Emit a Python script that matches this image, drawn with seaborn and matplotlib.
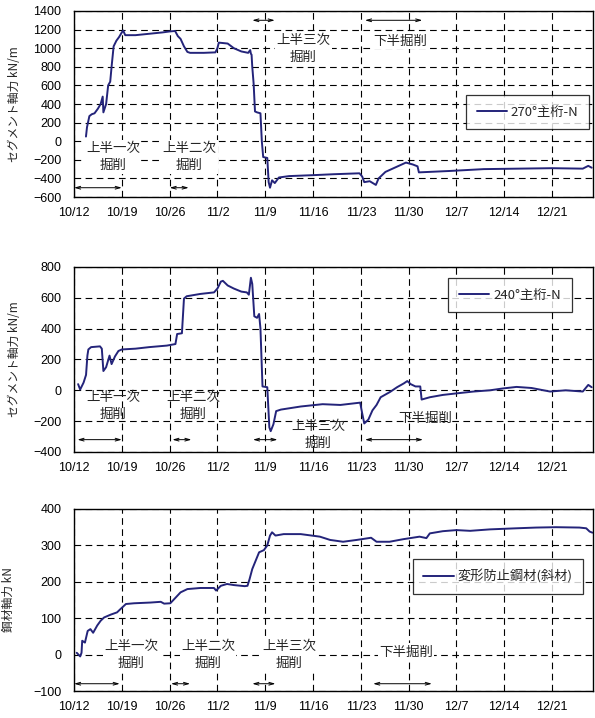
import numpy as np
import pandas as pd
import seaborn as sns
import matplotlib
matplotlib.use('Agg')
import matplotlib.pyplot as plt

sns.set_style('white')
plt.rcParams['font.family'] = ['Noto Sans CJK JP', 'DejaVu Sans']

# 10/12 からの経過日数
tick_days = [0, 7, 14, 21, 28, 35, 42, 49, 56, 63, 70]
tick_labels = ['10/12', '10/19', '10/26', '11/2', '11/9', '11/16',
               '11/23', '11/30', '12/7', '12/14', '12/21']

# 270°主桁-N
top_day = [1.75, 1.9, 2.25, 2.6, 3.0, 3.5, 3.9, 4.2, 4.3, 4.7, 5.0, 5.3, 5.5, 5.8,
           6.2, 6.6, 7.0, 7.2, 7.5, 9, 11, 13, 14.0, 14.8, 15.2, 15.6, 16.1, 16.6,
           17, 19, 20.7, 21.0, 21.2, 22.5, 23.4, 24.5, 25.5, 25.8, 25.9, 26.0, 26.1,
           26.3, 26.5, 26.8, 27.3, 27.5, 27.7, 28.3, 28.5, 28.7, 29.0, 29.4, 30.0,
           31.5, 35, 38, 41.8, 42.2, 42.5, 43.3, 44.2, 44.6, 45.6, 47.1, 48.6, 49.6,
           50.3, 50.5, 52, 55, 60, 65, 70, 74.5, 75.3, 75.8]
top_val = [50, 150, 270, 290, 300, 350, 400, 480, 310, 400, 600, 640, 800, 1020,
           1080, 1120, 1170, 1190, 1140, 1140, 1155, 1170, 1180, 1185, 1130, 1100, 1020, 960,
           950, 950, 955, 1000, 1060, 1050, 1000, 965, 950, 980, 940, 930, 800,
           620, 320, 310, 300, 0, -170, -180, -440, -500, -420, -450, -390,
           -375, -365, -355, -345, -380, -440, -430, -470, -400, -330, -280, -230, -250,
           -270, -335, -330, -320, -300, -295, -290, -295, -265, -285]

# 240°主桁-N
mid_day = [0.6, 0.9, 1.4, 1.76, 1.96, 2.1, 2.5, 3.8, 4.07, 4.3, 4.7, 5.2, 5.5, 6.0,
           6.5, 7.0, 9, 11, 13.6, 14.85, 15.1, 15.8, 16.1, 16.5, 18.5, 20.5, 21.0,
           21.5, 21.8, 22.5, 23.4, 24.5, 25.3, 25.6, 25.9, 26.1, 26.4, 26.8, 27.1,
           27.3, 27.6, 28.3, 28.6, 28.8, 29.2, 29.6, 30.3, 33.2, 36.4, 39, 41.9, 42.2,
           42.5, 43.1, 43.7, 44.3, 44.9, 46.3, 47.3, 48.3, 48.8, 49.3, 50.0, 50.7,
           50.9, 52.1, 54, 56, 58.5, 60.9, 62.8, 64.8, 67, 69.7, 72, 74.5, 75.3, 75.8]
mid_val = [40, 5, 50, 100, 225, 265, 280, 285, 270, 125, 150, 225, 170, 220,
           255, 265, 270, 280, 290, 300, 365, 370, 595, 610, 625, 635, 660,
           705, 710, 680, 660, 640, 635, 620, 730, 690, 480, 470, 495,
           400, 25, 20, -240, -265, -220, -135, -125, -105, -90, -95, -80, -150,
           -215, -190, -130, -95, -45, -10, 20, 45, 60, 40, 25, 25,
           -60, -45, -30, -20, -8, 0, 12, 22, 15, -8, 0, -8, 35, 20]

# 変形防止鋼材(斜材)
bot_day = [0.4, 0.9, 1.1, 1.2, 1.6, 2.0, 2.4, 2.8, 3.4, 3.9, 4.4, 5.4, 6.3, 6.8,
           7.6, 8.8, 11.2, 12.7, 13.2, 14.1, 14.9, 15.6, 16.6, 18.5, 20.5, 20.8,
           21.5, 22.4, 23.4, 25.0, 25.4, 25.7, 26.1, 26.6, 27.1, 27.8, 28.3, 28.7,
           29.0, 29.5, 30.7, 33.2, 36, 37.5, 39.4, 41.4, 43.5, 44.3, 46.2, 48.2,
           50.6, 51.6, 52.1, 54, 56, 58, 60.9, 64.8, 67.7, 70.6, 74, 75.0, 75.5, 75.9]
bot_val = [5, -5, 5, 38, 33, 65, 70, 60, 80, 93, 102, 110, 116, 125,
           139, 141, 143, 145, 140, 141, 157, 171, 180, 183, 183, 176,
           189, 194, 191, 188, 189, 207, 235, 258, 281, 287, 300, 327,
           336, 327, 331, 331, 324, 315, 310, 315, 321, 310, 310, 317,
           324, 320, 333, 339, 342, 340, 344, 347, 349, 350, 349, 347, 338, 335]

color = '#24247a'
tick_font = ['Liberation Sans', 'Noto Sans CJK JP']
fig = plt.figure(figsize=(5.95, 7.18), dpi=100)
ax1 = fig.add_axes([0.1244, 0.7256, 0.8723, 0.2591])
ax2 = fig.add_axes([0.1244, 0.3705, 0.8723, 0.2577])
ax3 = fig.add_axes([0.1244, 0.0376, 0.8723, 0.2535])

panels = [
    (ax1, top_day, top_val, '270°主桁-N', (-600, 1400), 200, 'セグメント軸力 kN/m', (0.874, 0.457)),
    (ax2, mid_day, mid_val, '240°主桁-N', (-400, 800), 200, 'セグメント軸力 kN/m', (0.840, 0.847)),
    (ax3, bot_day, bot_val, '変形防止鋼材(斜材)', (-100, 400), 100, '鋼材軸力 kN', (0.817, 0.630)),
]

for ax, d, v, name, ylim, step, ylab, legpos in panels:
    df = pd.DataFrame({'day': d, 'val': v})
    sns.lineplot(data=df, x='day', y='val', ax=ax, color=color, lw=1.4, label=name)
    ax.set_xlim(0, 76)
    ax.set_ylim(*ylim)
    ax.set_xticks(tick_days)
    ax.set_xticklabels(tick_labels)
    ax.set_yticks(np.arange(ylim[0], ylim[1] + 1, step))
    ax.tick_params(length=0, labelsize=9, colors='black')
    ax.tick_params(axis='y', pad=9)
    ax.tick_params(axis='x', pad=7)
    for lab in ax.get_xticklabels() + ax.get_yticklabels():
        lab.set_family(tick_font)
    ax.set_xlabel('')
    ax.set_ylabel(ylab, fontsize=8.5)
    ax.grid(True, color='black', lw=0.8, linestyle=(0, (6, 4)))
    ax.set_axisbelow(True)
    for s in ax.spines.values():
        s.set_color('black')
        s.set_linewidth(1.0)
    leg = ax.legend(loc='center', bbox_to_anchor=legpos, fontsize=9.5, frameon=True,
                    fancybox=False, edgecolor='black', handlelength=2.3,
                    handletextpad=0.3, borderpad=0.8)
    leg.get_frame().set_linewidth(0.9)

ax1.yaxis.set_label_coords(-0.102, 0.5)
ax2.yaxis.set_label_coords(-0.102, 0.5)
ax3.yaxis.set_label_coords(-0.114, 0.5)

arr = dict(arrowstyle='<->,head_length=0.35,head_width=0.1', lw=0.7, color='black',
           shrinkA=0, shrinkB=0)
box = dict(facecolor='white', edgecolor='none', pad=1)
fs = 9.7
ls = 1.3

# 上段
for x0, x1, y in [(0, 7, -500), (14, 16.8, -500), (26.1, 29.4, 1300), (42.6, 51, 1300)]:
    ax1.annotate('', xy=(x1, y), xytext=(x0, y), arrowprops=arr)
ax1.text(5.7, -165, '上半一次\n掘削', ha='center', va='center', fontsize=fs, linespacing=ls, bbox=box)
ax1.text(16.9, -165, '上半二次\n掘削', ha='center', va='center', fontsize=fs, linespacing=ls, bbox=box)
ax1.text(33.6, 995, '上半三次\n掘削', ha='center', va='center', fontsize=fs, linespacing=ls, bbox=box)
ax1.text(47.8, 1080, '下半掘削', ha='center', va='center', fontsize=fs, bbox=box)

# 中段
for x0, x1, y in [(0.5, 7, -320), (14.4, 17.2, -320), (26.2, 29.8, -320), (42.6, 51.1, -320)]:
    ax2.annotate('', xy=(x1, y), xytext=(x0, y), arrowprops=arr)
ax2.text(5.7, -98, '上半一次\n掘削', ha='center', va='center', fontsize=fs, linespacing=ls)
ax2.text(17.4, -98, '上半二次\n掘削', ha='center', va='center', fontsize=fs, linespacing=ls)
ax2.text(35.8, -286, '上半三次\n掘削', ha='center', va='center', fontsize=fs, linespacing=ls)
ax2.text(51.5, -180, '下半掘削', ha='center', va='center', fontsize=fs)

# 下段
for x0, x1, y in [(0, 6.7, -80), (14.2, 17, -80), (26.1, 29.5, -80), (43.8, 52.4, -80)]:
    ax3.annotate('', xy=(x1, y), xytext=(x0, y), arrowprops=arr)
ax3.text(8.4, 0, '上半一次\n掘削', ha='center', va='center', fontsize=fs, linespacing=ls, bbox=box)
ax3.text(19.6, 0, '上半二次\n掘削', ha='center', va='center', fontsize=fs, linespacing=ls, bbox=box)
ax3.text(31.5, 0, '上半三次\n掘削', ha='center', va='center', fontsize=fs, linespacing=ls, bbox=box)
ax3.text(48.6, 8, '下半掘削', ha='center', va='center', fontsize=fs, bbox=box)

fig.savefig('out.png', dpi=100)
